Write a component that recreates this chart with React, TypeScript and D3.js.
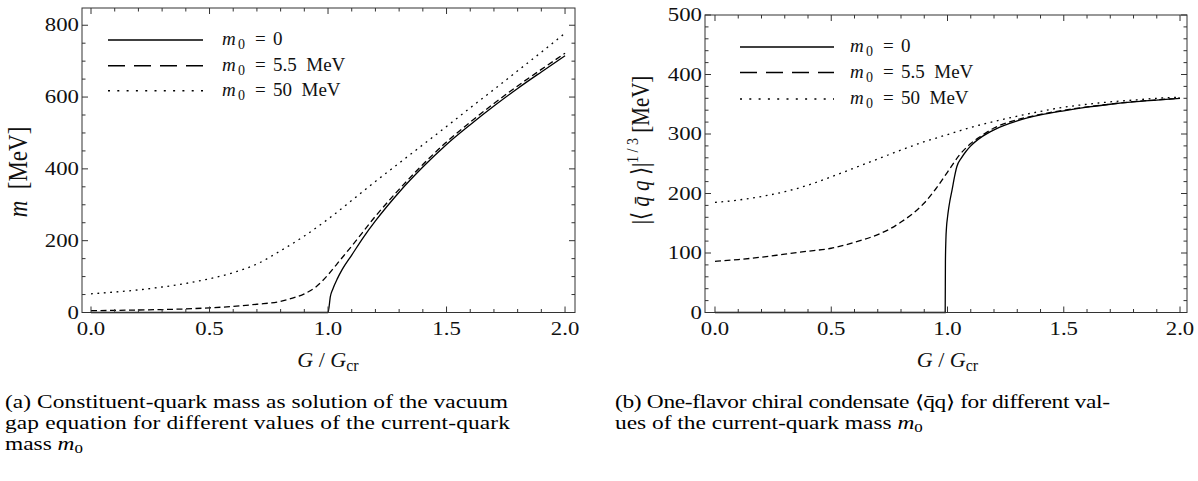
import React from 'react';
import * as d3 from 'd3';

// ---------- Panel (a): constituent-quark mass m [MeV] vs G/Gcr ----------
const massX_m0_0 = [0, 0.5, 0.99, 1.0, 1.01, 1.02, 1.04, 1.06, 1.1, 1.15, 1.2, 1.3, 1.4, 1.5, 1.6, 1.7, 1.8, 1.9, 2.0];
const massY_m0_0 = [0, 0, 0, 0, 45, 65, 95, 120, 160, 210, 255, 335, 405, 468, 523, 575, 624, 670, 715];

const massX_m0_55 = [0, 0.2, 0.4, 0.5, 0.6, 0.7, 0.8, 0.85, 0.9, 0.95, 1.0, 1.05, 1.1, 1.2, 1.3, 1.4, 1.5, 1.6, 1.7, 1.8, 1.9, 2.0];
const massY_m0_55 = [5, 7, 10, 13, 17, 23, 31, 40, 52, 72, 105, 145, 185, 268, 343, 412, 475, 530, 582, 631, 677, 722];

const massX_m0_50 = [0, 0.1, 0.2, 0.3, 0.4, 0.5, 0.6, 0.7, 0.8, 0.9, 1.0, 1.1, 1.2, 1.3, 1.4, 1.5, 1.6, 1.7, 1.8, 1.9, 2.0];
const massY_m0_50 = [52, 57, 63, 71, 81, 94, 111, 135, 172, 213, 260, 312, 365, 416, 467, 518, 570, 621, 673, 725, 778];

// ---------- Panel (b): |<qbar q>|^(1/3) [MeV] vs G/Gcr ----------
const condX_m0_0 = [0, 0.5, 0.99, 0.991, 0.993, 0.996, 1.0, 1.005, 1.01, 1.02, 1.03, 1.04, 1.06, 1.08, 1.1, 1.15, 1.2, 1.3, 1.4, 1.5, 1.6, 1.7, 1.8, 1.9, 2.0];
const condY_m0_0 = [0, 0, 0, 85, 122, 145, 160, 175, 187, 207, 228, 245, 260, 271, 280, 296, 307, 322, 332, 339, 345, 350, 354, 357, 360];

const condX_m0_55 = [0, 0.1, 0.2, 0.3, 0.4, 0.5, 0.6, 0.7, 0.75, 0.8, 0.85, 0.9, 0.95, 1.0, 1.05, 1.1, 1.15, 1.2, 1.3, 1.4, 1.5, 1.6, 1.7, 1.8, 1.9, 2.0];
const condY_m0_55 = [86, 89, 93, 98, 103, 108, 118, 131, 140, 152, 166, 184, 208, 236, 264, 284, 298, 310, 324, 333, 340, 345.5, 350.3, 354.3, 357.3, 360.3];

const condX_m0_50 = [0, 0.1, 0.2, 0.3, 0.4, 0.5, 0.6, 0.7, 0.8, 0.9, 1.0, 1.1, 1.2, 1.3, 1.4, 1.5, 1.6, 1.7, 1.8, 1.9, 2.0];
const condY_m0_50 = [185, 189, 195, 203, 214, 228, 243, 258, 273, 287, 299, 311, 321, 330, 338, 345, 350, 354, 357, 360, 362];

// ---------- Ticks & labels ----------
const xMajorTicks = [0, 0.5, 1.0, 1.5, 2.0];
const xTickLabels = ['0.0', '0.5', '1.0', '1.5', '2.0'];
const massYMajor = [0, 200, 400, 600, 800];
const condYMajor = [0, 100, 200, 300, 400, 500];
const legendValues = ['0', '5.5  MeV', '50  MeV'];

const SERIF = "'Liberation Serif', 'Times New Roman', serif";
const FRAME = '#333';
const TICK_SX = 1.2;

type Series = { xs: number[]; ys: number[]; dash: string; legendDash: string };

function range(a: number, b: number, step: number) {
  const out: number[] = [];
  for (let v = a; v <= b + 1e-9; v += step) out.push(Math.round(v * 1000) / 1000);
  return out;
}

function Panel(props: {
  left: number; right: number; top: number; bottom: number;
  xDomain: [number, number]; yDomain: [number, number];
  yMajor: number[]; yMinorStep: number;
  series: Series[];
  legend: { x1: number; x2: number; textX: number; rows: number[] };
}) {
  const { left, right, top, bottom, xDomain, yDomain, yMajor, yMinorStep, series, legend } = props;
  const x = d3.scaleLinear().domain(xDomain).range([left, right]);
  const y = d3.scaleLinear().domain(yDomain).range([bottom, top]);
  const xMinor = range(0, 2, 0.1).filter(v => !xMajorTicks.some(m => Math.abs(m - v) < 1e-6));
  const yMinor = range(0, yDomain[1], yMinorStep).filter(v => !yMajor.some(m => Math.abs(m - v) < 1e-6) && v <= yDomain[1]);
  const MAJ = 6, MIN = 3.5;
  const line = d3.line<[number, number]>().x(d => x(d[0])).y(d => y(d[1])).curve(d3.curveMonotoneX);
  return (
    <g>
      {series.map((s, i) => (
        <path key={i} d={line(s.xs.map((v, j) => [v, s.ys[j]] as [number, number])) || ''}
          fill="none" stroke="#000" strokeWidth={1.3} strokeDasharray={s.dash} />
      ))}
      <rect x={left} y={top} width={right - left} height={bottom - top} fill="none" stroke={FRAME} strokeWidth={1} />
      {xMajorTicks.map((v, i) => (
        <g key={'xM' + i}>
          <line x1={x(v)} x2={x(v)} y1={bottom} y2={bottom - MAJ} stroke={FRAME} />
          <line x1={x(v)} x2={x(v)} y1={top} y2={top + MAJ} stroke={FRAME} />
          <text transform={`translate(${x(v)},${bottom + 22}) scale(${TICK_SX},1)`} textAnchor="middle" fontFamily={SERIF} fontSize={19} fill="#111">{xTickLabels[i]}</text>
        </g>
      ))}
      {xMinor.map((v, i) => (
        <g key={'xm' + i}>
          <line x1={x(v)} x2={x(v)} y1={bottom} y2={bottom - MIN} stroke={FRAME} />
          <line x1={x(v)} x2={x(v)} y1={top} y2={top + MIN} stroke={FRAME} />
        </g>
      ))}
      {yMajor.map((v, i) => (
        <g key={'yM' + i}>
          <line x1={left} x2={left + MAJ} y1={y(v)} y2={y(v)} stroke={FRAME} />
          <line x1={right} x2={right - MAJ} y1={y(v)} y2={y(v)} stroke={FRAME} />
          <text transform={`translate(${left - 3},${y(v) + 6}) scale(${TICK_SX},1)`} textAnchor="end" fontFamily={SERIF} fontSize={19} fill="#111">{String(v)}</text>
        </g>
      ))}
      {yMinor.map((v, i) => (
        <g key={'ym' + i}>
          <line x1={left} x2={left + MIN} y1={y(v)} y2={y(v)} stroke={FRAME} />
          <line x1={right} x2={right - MIN} y1={y(v)} y2={y(v)} stroke={FRAME} />
        </g>
      ))}
      {series.map((s, i) => (
        <g key={'lg' + i}>
          <line x1={legend.x1} x2={legend.x2} y1={legend.rows[i]} y2={legend.rows[i]} stroke="#000" strokeWidth={1.5} strokeDasharray={s.legendDash} />
          <text y={legend.rows[i] + 5} fontFamily={SERIF} fontSize={19} fill="#111">
            <tspan x={legend.textX} fontStyle="italic">m</tspan>
            <tspan x={legend.textX + 16} dy={4} fontSize={14}>0</tspan>
            <tspan x={legend.textX + 33} dy={-4}>=</tspan>
            <tspan x={legend.textX + 51} style={{ whiteSpace: 'pre' }}>{legendValues[i]}</tspan>
          </text>
        </g>
      ))}
      <text x={(x(0) + x(2)) / 2} y={367} textAnchor="middle" fontFamily={SERIF} fontSize={22} fill="#111" style={{ whiteSpace: 'pre' }}>
        <tspan fontStyle="italic">G</tspan><tspan> / </tspan><tspan fontStyle="italic">G</tspan><tspan fontSize={16} dy={4}>cr</tspan>
      </text>
    </g>
  );
}

const CAP_SX = 1.3;

export default function App() {
  const dashPlot = '6,3.5';
  const dotPlot = '1.8,4.6';
  const seriesA: Series[] = [
    { xs: massX_m0_0, ys: massY_m0_0, dash: '', legendDash: '' },
    { xs: massX_m0_55, ys: massY_m0_55, dash: dashPlot, legendDash: '17,9' },
    { xs: massX_m0_50, ys: massY_m0_50, dash: dotPlot, legendDash: '2,7.3' },
  ];
  const seriesB: Series[] = [
    { xs: condX_m0_0, ys: condY_m0_0, dash: '', legendDash: '' },
    { xs: condX_m0_55, ys: condY_m0_55, dash: dashPlot, legendDash: '17,9' },
    { xs: condX_m0_50, ys: condY_m0_50, dash: dotPlot, legendDash: '2,7.3' },
  ];
  return (
    <svg width={1198} height={481} style={{ position: 'absolute', left: 0, top: 0, background: '#fff' }}>
      <rect width={1198} height={481} fill="#fff" />
      <Panel left={82} right={575} top={8} bottom={312.5} xDomain={[-0.038, 2.042]} yDomain={[0, 848]}
        yMajor={massYMajor} yMinorStep={50} series={seriesA}
        legend={{ x1: 108, x2: 203, textX: 222, rows: [40, 65.7, 90.7] }} />
      <Panel left={705} right={1187} top={15} bottom={312.5} xDomain={[-0.043, 2.03]} yDomain={[0, 500]}
        yMajor={condYMajor} yMinorStep={20} series={seriesB}
        legend={{ x1: 740, x2: 834, textX: 850, rows: [47, 72.5, 99] }} />
      {/* y labels */}
      <text transform="translate(27,172) scale(1.2,1) rotate(-90)" textAnchor="middle" fontFamily={SERIF} fontSize={23} fill="#111" style={{ whiteSpace: 'pre' }}>
        <tspan fontStyle="italic">m</tspan><tspan>  [MeV]</tspan>
      </text>
      <text transform="translate(649,150) scale(1.2,1) rotate(-90)" textAnchor="middle" fontFamily={SERIF} fontSize={21} fill="#111" style={{ whiteSpace: 'pre' }}>
        <tspan>{'|\u27E8'}</tspan><tspan fontStyle="italic">{' q\u0304'}</tspan><tspan fontStyle="italic"> q</tspan><tspan>{' \u27E9|'}</tspan>
        <tspan dy={-9} fontSize={14}>1 / 3</tspan><tspan dy={9}> [MeV]</tspan>
      </text>
      {/* captions */}
      <g fontFamily={SERIF} fontSize={18} fill="#000">
        <g transform={`translate(5,0) scale(${CAP_SX},1)`}>
          <text x={0} y={408} textLength={503 / CAP_SX} lengthAdjust="spacing">(a) Constituent-quark mass as solution of the vacuum</text>
          <text x={0} y={429} textLength={505 / CAP_SX} lengthAdjust="spacing">gap equation for different values of the current-quark</text>
          <text x={0} y={450}>mass <tspan fontStyle="italic">m</tspan><tspan fontSize={13} dy={3}>0</tspan></text>
        </g>
        <g transform={`translate(615,0) scale(${CAP_SX},1)`}>
          <text x={0} y={408} textLength={495 / CAP_SX} lengthAdjust="spacing">(b) One-flavor chiral condensate {'\u27E8q\u0304q\u27E9'} for different val-</text>
          <text x={0} y={429}>ues of the current-quark mass <tspan fontStyle="italic">m</tspan><tspan fontSize={13} dy={3}>0</tspan></text>
        </g>
      </g>
    </svg>
  );
}
